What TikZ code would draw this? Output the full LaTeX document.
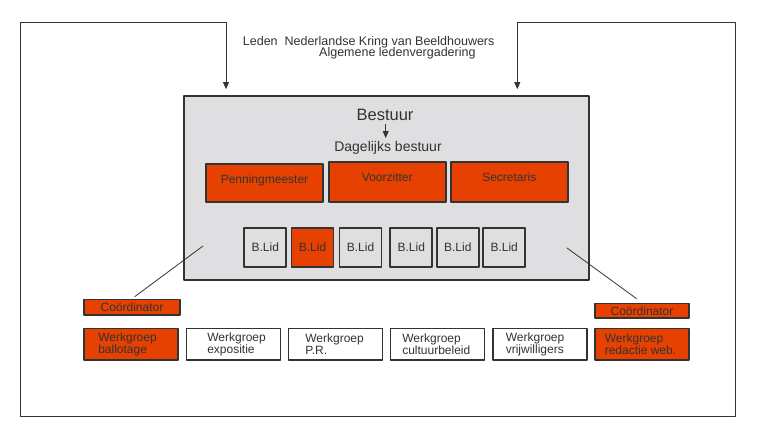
\documentclass[tikz,border=0pt]{standalone}
\usepackage{fontspec}
\setmainfont{Liberation Sans}
\usetikzlibrary{arrows.meta,positioning}
\definecolor{oranje}{RGB}{230,65,0}
\definecolor{grijs}{RGB}{223,223,226}
\definecolor{rand}{RGB}{51,51,51}

\begin{document}
\begin{tikzpicture}[line cap=round,line join=round,>={Triangle[width=6pt,length=7pt]},x=1pt,y=-1pt,
        blok/.style={draw=rand,line width=1.8pt,inner sep=0pt,text=rand,font=\fontsize{12}{14}\selectfont},
        rood/.style={blok,fill=oranje},
        wit/.style={blok,fill=white},
        functie/.style={rood,minimum width=117pt,minimum height=38pt,text height=9pt,text depth=9pt},
        lid/.style={blok,fill=grijs,minimum width=42pt,minimum height=39pt},
        werk/.style={minimum width=94pt,minimum height=31.5pt},
        wgtekst/.style={inner sep=0pt,align=left,text=rand,font=\fontsize{12}{11.5}\selectfont},
        kop/.style={inner sep=0pt,anchor=base west,text=rand,font=\fontsize{12.5}{14}\selectfont}]
        \useasboundingbox (0,0) rectangle (762,437);

        \node [kop] (leden) at (242.7,45) {Leden\ \ Nederlandse Kring van Beeldhouwers};
        \node [kop] (alv) at (319,56.7) {Algemene ledenvergadering};

        \node [draw=rand,line width=1.8pt,fill=grijs,minimum width=405pt,minimum height=184pt] (bestuur) at (386.5,188) {};
        \node [anchor=base,text=rand,font=\fontsize{16.5}{18}\selectfont] (titel) at (385,120.7) {Bestuur};
        \node [anchor=base,text=rand,font=\fontsize{14}{16}\selectfont] (dagelijks) at (388,151.7) {Dagelijks bestuur};
        \draw [->,line width=0.8pt,rand] (titel.south -| 385.7,0) -- (dagelijks.north -| 385.7,0);

        % dagelijks bestuur
        \node [functie] (penning) at (264.5,183) {Penningmeester};
        \node [functie,minimum height=40pt] (voorz) at (387.3,181.7) {Voorzitter};
        \node [functie,minimum height=40pt] (secr) at (509.3,181.7) {Secretaris};

        % bestuursleden
        \node [lid] (lid1) at (265.3,247.2) {B.Lid};
        \node [lid,fill=oranje] (lid2) at (312.5,247.2) {B.Lid};
        \node [lid] (lid3) at (360.5,247.2) {B.Lid};
        \node [lid] (lid4) at (411.3,247.2) {B.Lid};
        \node [lid] (lid5) at (457.8,247.2) {B.Lid};
        \node [lid] (lid6) at (504.2,247.2) {B.Lid};

        % coordinatoren
        \node [rood,minimum width=96pt,minimum height=15.5pt] (coordL) at (132,307.3) {Coördinator};
        \node [rood,minimum width=94pt,minimum height=14.5pt] (coordR) at (642,310.8) {Coördinator};
        \coordinate (hoekL) at (203,246);
        \coordinate (hoekR) at (567,248);
        \draw [line width=0.8pt,rand,shorten >=3.5pt] (hoekL) -- (coordL.north);
        \draw [line width=0.8pt,rand,shorten >=7pt] (hoekR) -- (coordR.north);

        % werkgroepen
        \node [rood,werk] (wg1) at (131,344.3) {};
        \node [wit,werk] (wg2) at (233.5,344.3) {};
        \node [wit,werk] (wg3) at (335.5,344.3) {};
        \node [wit,werk] (wg4) at (437.5,344.3) {};
        \node [wit,werk] (wg5) at (540,344.3) {};
        \node [rood,werk] (wg6) at (642,344.3) {};
        \node [wgtekst,right=15pt of wg1.west] (wg1t) {Werkgroep\\ballotage};
        \node [wgtekst,right=21.5pt of wg2.west] (wg2t) {Werkgroep\\expositie};
        \node [wgtekst,right=17.5pt of wg3.west] (wg3t) {Werkgroep\\P.R.};
        \node [wgtekst,right=12.5pt of wg4.west] (wg4t) {Werkgroep\\cultuurbeleid};
        \node [wgtekst,right=13.5pt of wg5.west] (wg5t) {Werkgroep\\vrijwilligers};
        \node [wgtekst,right=10.5pt of wg6.west] (wg6t) {Werkgroep\\redactie web.};

        % leden naar bestuur
        \coordinate (inL) at (226,22.3);
        \coordinate (inR) at (517.3,22.3);
        \draw [<->,line width=0.8pt,rand,shorten <=6pt,shorten >=6pt] (inL |- bestuur.north) -- (inL) -- (20.7,22.3) -- (20.7,416) -- (735.7,416) -- (735.7,22.3) -- (inR) -- (inR |- bestuur.north);
\end{tikzpicture}
\end{document}
